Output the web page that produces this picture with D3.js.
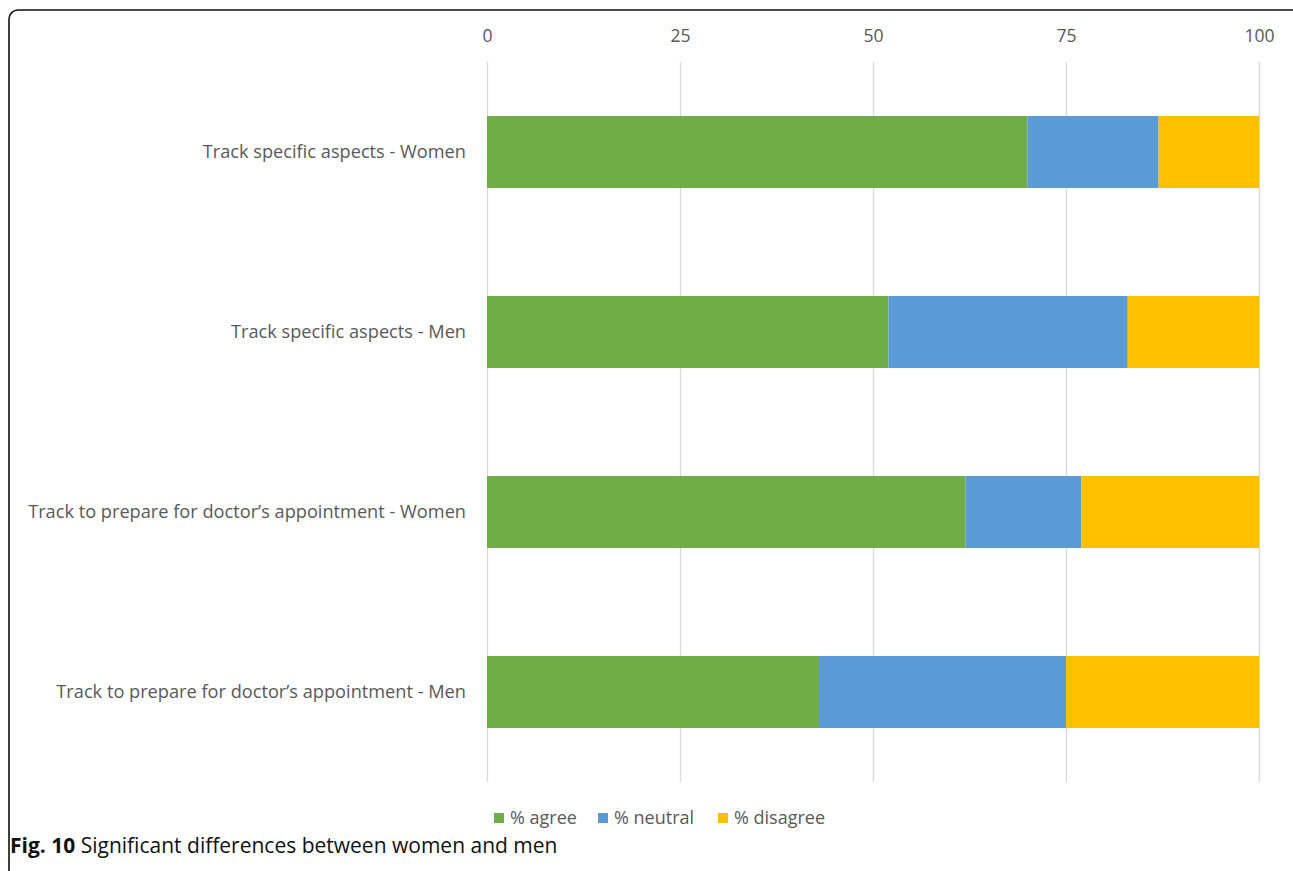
<!DOCTYPE html>
<html>
<head>
<meta charset="utf-8">
<script src="https://cdn.jsdelivr.net/npm/d3@7"></script>
<style>
  body{margin:0;background:#fff;}
  svg{display:block;}
</style>
</head>
<body>
<div class="container"></div>
<script>
// data
const categories=[
  "Track specific aspects - Women",
  "Track specific aspects - Men",
  "Track to prepare for doctor\u2019s appointment - Women",
  "Track to prepare for doctor\u2019s appointment - Men"
];
const agree=[70,52,62,43];
const neutral=[17,31,15,32];
const disagree=[13,17,23,25];
const seriesNames=["% agree","% neutral","% disagree"];
const tickValues=[0,25,50,75,100];

const colors=["#70ad47","#5b9bd5","#ffc000"];

const W=1293,H=871;
const svg=d3.select('.container')
  .append("svg")
  .attr("width",W)
  .attr("height",H);

// figure frame
svg.append("rect")
  .attr("x",9).attr("y",10)
  .attr("width",1281+20).attr("height",900)
  .attr("rx",9)
  .attr("fill","none")
  .attr("stroke","#111")
  .attr("stroke-width",1.6);

let rows=categories.map((c,i)=>({cat:c,agree:agree[i],neutral:neutral[i],disagree:disagree[i]}));
let stacked=d3.stack().keys(["agree","neutral","disagree"])(rows);

let x=d3.scaleLinear().domain([0,100]).range([487,1259]);
let y=d3.scaleBand().domain(categories).range([62,782]).paddingInner(0.6).paddingOuter(0.3);

const font="'Open Sans', sans-serif";
const txtCol="#595959";

// gridlines
svg.append("g")
  .selectAll("line")
  .data(tickValues)
  .join("line")
  .attr("x1",d=>x(d)+0.5).attr("x2",d=>x(d)+0.5)
  .attr("y1",62).attr("y2",782)
  .attr("stroke","#d9d9d9")
  .attr("stroke-width",1.3);

// top axis labels
let xAxis=d3.axisTop(x).tickValues(tickValues).tickSize(0).tickPadding(0);
let gx=svg.append("g").attr("transform","translate(0,42)").call(xAxis);
gx.select(".domain").remove();
gx.selectAll("text")
  .attr("font-family",font)
  .attr("font-size",17.6)
  .attr("fill",txtCol);

// bars
svg.append("g")
  .selectAll("g")
  .data(stacked)
  .join("g")
  .attr("fill",(d,i)=>colors[i])
  .selectAll("rect")
  .data(d=>d)
  .join("rect")
  .attr("x",d=>x(d[0]))
  .attr("y",d=>y(d.data.cat))
  .attr("width",d=>x(d[1])-x(d[0]))
  .attr("height",y.bandwidth());

// category labels
let yAxis=d3.axisLeft(y).tickSize(0).tickPadding(21);
let gy=svg.append("g").attr("transform","translate(487,0)").call(yAxis);
gy.select(".domain").remove();
gy.selectAll("text")
  .attr("font-family",font)
  .attr("font-size",18.2)
  .attr("fill",txtCol);

// legend
let legendX=[494,598,718];
let lg=svg.append("g")
  .selectAll("g")
  .data(seriesNames)
  .join("g")
  .attr("transform",(d,i)=>`translate(${legendX[i]},813)`);
lg.append("rect")
  .attr("width",10).attr("height",10)
  .attr("fill",(d,i)=>colors[i]);
lg.append("text")
  .attr("x",16).attr("y",11)
  .attr("font-family",font)
  .attr("font-size",18)
  .attr("fill",txtCol)
  .text(d=>d);

// caption
let cap=svg.append("text")
  .attr("x",10).attr("y",853)
  .attr("font-family",font)
  .attr("font-size",21)
  .attr("fill","#111");
cap.append("tspan").attr("font-weight","bold").text("Fig. 10");
cap.append("tspan").text(" Significant differences between women and men");
</script>
</body>
</html>
